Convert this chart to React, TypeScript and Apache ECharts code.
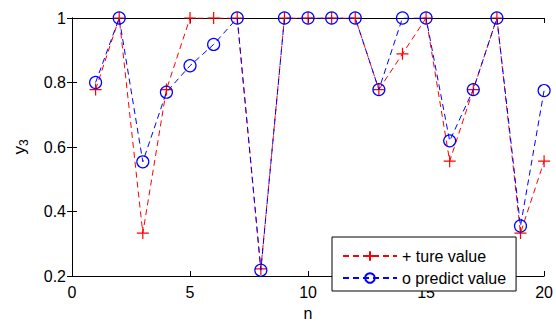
import React, { useEffect, useRef } from "react";
import * as echarts from "echarts";

const nValues = [1, 2, 3, 4, 5, 6, 7, 8, 9, 10, 11, 12, 13, 14, 15, 16, 17, 18, 19, 20];
const trueValues = [0.778, 1, 0.333, 0.778, 1, 1, 1, 0.222, 1, 1, 1, 1, 0.778, 0.889, 1, 0.556, 0.778, 1, 0.333, 0.556];
const predictValues = [0.8, 1, 0.554, 0.77, 0.852, 0.918, 1, 0.218, 1, 1, 1, 1, 0.778, 1, 1, 0.619, 0.778, 1, 0.355, 0.775];
const seriesNames = ["+ ture value", "o predict value"];
const xLabel = "n";

const FONT = "'Liberation Sans', Arial, Helvetica, sans-serif";
const PLUS = "path://M0,6 L12,6 M6,0 L6,12";

export default function App() {
  const ref = useRef<HTMLDivElement>(null);
  useEffect(() => {
    if (!ref.current) return;
    const chart = echarts.init(ref.current, null, { renderer: "svg" });
    const axisCommon = {
      axisLine: { show: true, lineStyle: { color: "#000", width: 1 } },
      axisTick: { show: true, inside: true, length: 5, lineStyle: { color: "#000" } },
      splitLine: { show: false },
    };
    chart.setOption({
      animation: false,
      backgroundColor: "#fff",
      textStyle: { fontFamily: FONT },
      grid: { left: 72, right: 8, top: 18, bottom: 45, containLabel: false },
      legend: {
        orient: "vertical",
        left: 332,
        top: 237,
        padding: [11, 10, 5, 10],
        itemWidth: 54,
        itemHeight: 12,
        itemGap: 6,
        borderColor: "#000",
        borderWidth: 1,
        backgroundColor: "#fff",
        textStyle: { fontFamily: FONT, fontSize: 16, color: "#000", padding: [0, 0, 0, 0] },
        data: seriesNames,
      },
      xAxis: [
        {
          type: "value",
          min: 0,
          max: 20,
          interval: 5,
          name: xLabel,
          nameLocation: "middle",
          nameGap: 29,
          nameTextStyle: { fontFamily: FONT, fontSize: 16, color: "#000" },
          axisLabel: { fontFamily: FONT, fontSize: 16, color: "#000", margin: 8 },
          ...axisCommon,
        },
        {
          type: "value",
          position: "top",
          min: 0,
          max: 20,
          interval: 5,
          axisLabel: { show: false },
          ...axisCommon,
        },
      ],
      yAxis: [
        {
          type: "value",
          min: 0.2,
          max: 1,
          interval: 0.2,
          name: "{a|y}{b|3}",
          nameLocation: "middle",
          nameGap: 42,
          nameRotate: 90,
          nameTextStyle: {
            fontFamily: FONT,
            color: "#000",
            rich: {
              a: { fontFamily: FONT, fontSize: 17, color: "#000" },
              b: { fontFamily: FONT, fontSize: 12, color: "#000", padding: [9, 0, 0, 0] },
            },
          },
          axisLabel: { fontFamily: FONT, fontSize: 16, color: "#000", margin: 6 },
          ...axisCommon,
        },
        {
          type: "value",
          position: "right",
          min: 0.2,
          max: 1,
          interval: 0.2,
          axisLabel: { show: false },
          ...axisCommon,
        },
      ],
      series: [
        {
          name: seriesNames[0],
          type: "line",
          data: nValues.map((n, i) => [n, trueValues[i]]),
          symbol: PLUS,
          symbolSize: 12,
          showAllSymbol: true,
          lineStyle: { color: "#ff0000", width: 1, type: [6, 4] },
          itemStyle: { color: "rgba(0,0,0,0)", borderColor: "#ff0000", borderWidth: 1.2 },
          emphasis: { disabled: true },
          z: 2,
        },
        {
          name: seriesNames[1],
          type: "line",
          data: nValues.map((n, i) => [n, predictValues[i]]),
          symbol: "circle",
          symbolSize: 12,
          showAllSymbol: true,
          lineStyle: { color: "#0000ff", width: 1, type: [6, 4] },
          itemStyle: { color: "rgba(0,0,0,0)", borderColor: "#0000ff", borderWidth: 1.2 },
          emphasis: { disabled: true },
          z: 3,
        },
      ],
    });
    return () => chart.dispose();
  }, []);
  return <div ref={ref} style={{ width: 556, height: 326, position: "absolute", left: 0, top: 0 }} />;
}
